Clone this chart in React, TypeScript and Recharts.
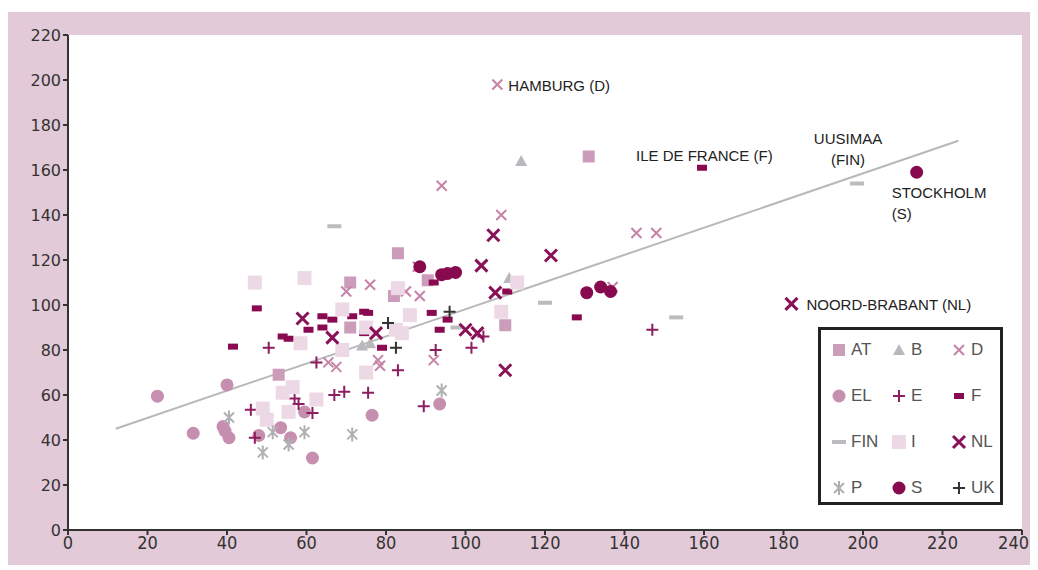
import React from "react";
import {
  ScatterChart,
  Scatter,
  XAxis,
  YAxis,
  CartesianGrid,
  ReferenceLine,
  Legend,
} from "recharts";

type Pt = { x: number; y: number };

// values
const AT: Pt[] = [
  { x: 131, y: 166 }, { x: 83, y: 123 }, { x: 71, y: 110 }, { x: 82, y: 104 },
  { x: 90.5, y: 111 }, { x: 71, y: 90 }, { x: 53, y: 69 }, { x: 110, y: 91 },
];
const B: Pt[] = [
  { x: 114, y: 164 }, { x: 111, y: 112 }, { x: 76, y: 83 }, { x: 74, y: 82 },
];
const D: Pt[] = [
  { x: 108, y: 198 }, { x: 94, y: 153 }, { x: 109, y: 140 }, { x: 143, y: 132 },
  { x: 148, y: 132 }, { x: 137, y: 108 }, { x: 76, y: 109 }, { x: 70, y: 106 },
  { x: 88, y: 117 }, { x: 85, y: 106 }, { x: 88.5, y: 104 }, { x: 92, y: 75.5 },
  { x: 65.5, y: 74.5 }, { x: 67.5, y: 72.5 }, { x: 78, y: 75.5 }, { x: 78.5, y: 73 },
];
const EL: Pt[] = [
  { x: 22.5, y: 59.5 }, { x: 31.5, y: 43 }, { x: 40, y: 64.5 }, { x: 39, y: 46 },
  { x: 39.5, y: 44 }, { x: 40.5, y: 41 }, { x: 48, y: 42 }, { x: 53.5, y: 45.5 },
  { x: 56, y: 41 }, { x: 59.5, y: 52.5 }, { x: 76.5, y: 51 }, { x: 61.5, y: 32 },
  { x: 93.5, y: 56 },
];
const E: Pt[] = [
  { x: 50.5, y: 81 }, { x: 62.5, y: 74.5 }, { x: 57, y: 58.5 }, { x: 58, y: 56 },
  { x: 61.5, y: 52 }, { x: 67, y: 60 }, { x: 69.5, y: 61.5 }, { x: 75.5, y: 61 },
  { x: 46, y: 53.5 }, { x: 83, y: 71 }, { x: 47, y: 41 }, { x: 92.5, y: 80 },
  { x: 101.5, y: 81 }, { x: 104.5, y: 86 }, { x: 89.5, y: 55 }, { x: 147, y: 89 },
];
const F: Pt[] = [
  { x: 159.5, y: 161 }, { x: 41.5, y: 81.5 }, { x: 47.5, y: 98.5 }, { x: 54, y: 86 },
  { x: 55.5, y: 85 }, { x: 60.5, y: 89 }, { x: 64, y: 95 }, { x: 66.5, y: 93.5 },
  { x: 64, y: 90 }, { x: 71.5, y: 95 }, { x: 74.5, y: 97 }, { x: 75.5, y: 96.5 },
  { x: 79, y: 81 }, { x: 74.5, y: 87.5 }, { x: 91.5, y: 96.5 }, { x: 95.5, y: 93.5 },
  { x: 93.5, y: 89 }, { x: 110.5, y: 106 }, { x: 128, y: 94.5 }, { x: 92, y: 110 },
];
const FIN: Pt[] = [
  { x: 67, y: 135 }, { x: 198.5, y: 154 }, { x: 120, y: 101 }, { x: 153, y: 94.5 },
  { x: 98, y: 90 },
];
const I: Pt[] = [
  { x: 47, y: 110 }, { x: 59.5, y: 112 }, { x: 58.5, y: 83 }, { x: 69, y: 98 },
  { x: 75, y: 90 }, { x: 69, y: 80 }, { x: 75, y: 70 }, { x: 56.5, y: 63.5 },
  { x: 54, y: 61 }, { x: 49, y: 54 }, { x: 50, y: 49 }, { x: 55.5, y: 52.5 },
  { x: 62.5, y: 58 }, { x: 83, y: 107.5 }, { x: 86, y: 95.5 }, { x: 84, y: 87.5 },
  { x: 113, y: 110 }, { x: 109, y: 97 }, { x: 82.5, y: 89 },
];
const NL: Pt[] = [
  { x: 59, y: 94 }, { x: 66.5, y: 85.5 }, { x: 77.5, y: 87.5 }, { x: 107, y: 131 },
  { x: 104, y: 117.5 }, { x: 121.5, y: 122 }, { x: 107.5, y: 105.5 }, { x: 100, y: 89 },
  { x: 103, y: 87.5 }, { x: 110, y: 71 }, { x: 182, y: 100.5 },
];
const P: Pt[] = [
  { x: 40.5, y: 50 }, { x: 49, y: 34.5 }, { x: 51.5, y: 43.5 }, { x: 55.5, y: 38 },
  { x: 59.5, y: 43.5 }, { x: 71.5, y: 42.5 }, { x: 94, y: 62 },
];
const S: Pt[] = [
  { x: 213.5, y: 159 }, { x: 88.5, y: 117 }, { x: 95.5, y: 114 }, { x: 97.5, y: 114.5 },
  { x: 94, y: 113.5 }, { x: 130.5, y: 105.5 }, { x: 134, y: 108 }, { x: 136.5, y: 106 },
];
const UK: Pt[] = [
  { x: 80.5, y: 92 }, { x: 82.5, y: 81 }, { x: 96, y: 97 },
];

const trendLine: Pt[] = [
  { x: 12, y: 45 },
  { x: 224, y: 173 },
];

const xTicks = [0, 20, 40, 60, 80, 100, 120, 140, 160, 180, 200, 220, 240];
const yTicks = [0, 20, 40, 60, 80, 100, 120, 140, 160, 180, 200, 220];

const callouts = [
  { x: 108, y: 198, lines: ["HAMBURG (D)"], dx: 11, dy: [0], anchor: "start" },
  { x: 159.5, y: 161, lines: ["ILE DE FRANCE (F)"], dx: -66, dy: [-13], anchor: "start" },
  { x: 198.5, y: 154, lines: ["UUSIMAA", "(FIN)"], dx: -9, dy: [-46, -25], anchor: "middle" },
  { x: 213.5, y: 159, lines: ["STOCKHOLM", "(S)"], dx: -25, dy: [20, 41], anchor: "start" },
  { x: 182, y: 100.5, lines: ["NOORD-BRABANT (NL)"], dx: 15, dy: [0], anchor: "start" },
];

type Kind = "square" | "bigsquare" | "triangle" | "x" | "boldx" | "circle" | "plus" | "dash" | "bar" | "star" | "dot";

const series: { name: string; data: Pt[]; color: string; kind: Kind }[] = [
  { name: "AT", data: AT, color: "#cc9dbb", kind: "square" },
  { name: "B", data: B, color: "#b9b9bd", kind: "triangle" },
  { name: "D", data: D, color: "#c683a8", kind: "x" },
  { name: "EL", data: EL, color: "#c68eaf", kind: "circle" },
  { name: "E", data: E, color: "#8e1c60", kind: "plus" },
  { name: "F", data: F, color: "#8a0a52", kind: "dash" },
  { name: "FIN", data: FIN, color: "#bcbcc0", kind: "bar" },
  { name: "I", data: I, color: "#edd9e5", kind: "bigsquare" },
  { name: "NL", data: NL, color: "#8a1158", kind: "boldx" },
  { name: "P", data: P, color: "#b0b0b4", kind: "star" },
  { name: "S", data: S, color: "#870a4e", kind: "dot" },
  { name: "UK", data: UK, color: "#333333", kind: "plus" },
];

const mark = (kind: Kind, color: string, cx: number, cy: number) => {
  switch (kind) {
    case "square":
      return <rect x={cx - 6} y={cy - 6} width={12} height={12} fill={color} />;
    case "bigsquare":
      return <rect x={cx - 7} y={cy - 7} width={14} height={14} fill={color} />;
    case "triangle":
      return <polygon points={`${cx},${cy - 6} ${cx + 6},${cy + 5} ${cx - 6},${cy + 5}`} fill={color} />;
    case "x":
      return (
        <path d={`M${cx - 5},${cy - 5}L${cx + 5},${cy + 5}M${cx + 5},${cy - 5}L${cx - 5},${cy + 5}`} stroke={color} strokeWidth={2} />
      );
    case "boldx":
      return (
        <path d={`M${cx - 6},${cy - 6}L${cx + 6},${cy + 6}M${cx + 6},${cy - 6}L${cx - 6},${cy + 6}`} stroke={color} strokeWidth={3} />
      );
    case "circle":
      return <circle cx={cx} cy={cy} r={6.5} fill={color} />;
    case "dot":
      return <circle cx={cx} cy={cy} r={6.5} fill={color} />;
    case "plus":
      return (
        <path d={`M${cx - 6},${cy}L${cx + 6},${cy}M${cx},${cy - 6}L${cx},${cy + 6}`} stroke={color} strokeWidth={2} />
      );
    case "dash":
      return <rect x={cx - 5} y={cy - 3} width={10} height={6} fill={color} />;
    case "bar":
      return <rect x={cx - 7} y={cy - 2} width={14} height={4} fill={color} />;
    case "star":
      return (
        <path
          d={`M${cx - 5},${cy - 5}L${cx + 5},${cy + 5}M${cx + 5},${cy - 5}L${cx - 5},${cy + 5}M${cx},${cy - 7}L${cx},${cy + 7}`}
          stroke={color}
          strokeWidth={2}
        />
      );
  }
  return null;
};

const LegendBox = () => (
  <div
    style={{
      width: 179,
      height: 172,
      border: "3px solid #222",
      background: "#fff",
      position: "relative",
      fontFamily: "'Liberation Sans', Arial, sans-serif",
      fontSize: 17,
      color: "#555",
    }}
  >
    {series.map((s, i) => {
      const col = i % 3;
      const row = Math.floor(i / 3);
      return (
        <div
          key={s.name}
          style={{
            position: "absolute",
            left: 10 + col * 60,
            top: 10 + row * 46,
            height: 20,
            display: "flex",
            alignItems: "center",
          }}
        >
          <svg width={16} height={16} style={{ marginRight: 4 }}>
            {mark(s.kind, s.color, 8, 8)}
          </svg>
          <span>{s.name}</span>
        </div>
      );
    })}
  </div>
);

const Callout = (props: any) => {
  const { cx, cy, payload } = props;
  return (
    <text
      fontFamily="'Liberation Sans', Arial, sans-serif"
      fontSize={15}
      fill="#222"
      textAnchor={payload.anchor}
      dominantBaseline="central"
    >
      {payload.lines.map((l: string, i: number) => (
        <tspan key={i} x={cx + payload.dx} y={cy + payload.dy[i]}>
          {l}
        </tspan>
      ))}
    </text>
  );
};

// last label is pulled in so it stays inside the frame
const XTick = (props: any) => {
  const { x, y, payload } = props;
  const last = payload.value === xTicks[xTicks.length - 1];
  return (
    <text
      x={last ? x + 7 : x}
      y={y + 12}
      textAnchor={last ? "end" : "middle"}
      fill="#333"
      fontSize={18}
      fontFamily="'Liberation Sans Narrow', 'DejaVu Sans Condensed', sans-serif"
    >
      {payload.value}
    </text>
  );
};

export default function App() {
  return (
    <div
      style={{
        position: "relative",
        width: 1022,
        height: 553,
        marginTop: 4,
        background: "#e3cad8",
      }}
    >
      <ScatterChart width={1022} height={553} margin={{ top: 23, right: 8, left: 0, bottom: 0 }}>
        <CartesianGrid fill="#ffffff" horizontal={false} vertical={false} />
        <XAxis
          type="number"
          dataKey="x"
          domain={[0, 240]}
          ticks={xTicks}
          interval={0}
          height={35}
          stroke="#333"
          strokeWidth={2}
          tickSize={5}
          tick={<XTick />}
        />
        <YAxis
          type="number"
          dataKey="y"
          domain={[0, 220]}
          ticks={yTicks}
          interval={0}
          width={60}
          stroke="#333"
          strokeWidth={2}
          tickSize={5}
          tick={{ fill: "#333", fontSize: 16, fontFamily: "'DejaVu Sans', sans-serif" }}
        />
        <ReferenceLine segment={trendLine} stroke="#b8b8b8" strokeWidth={2} />
        {series.map((s) => (
          <Scatter
            key={s.name}
            name={s.name}
            data={s.data}
            isAnimationActive={false}
            shape={(p: any) => mark(s.kind, s.color, p.cx, p.cy)}
          />
        ))}
        <Scatter name="callouts" data={callouts} isAnimationActive={false} shape={Callout} legendType="none" />
        <Legend
          layout="horizontal"
          verticalAlign="middle"
          align="center"
          content={() => <LegendBox />}
          wrapperStyle={{ left: 810, top: 315, width: 185, height: 178 }}
        />
      </ScatterChart>
    </div>
  );
}
